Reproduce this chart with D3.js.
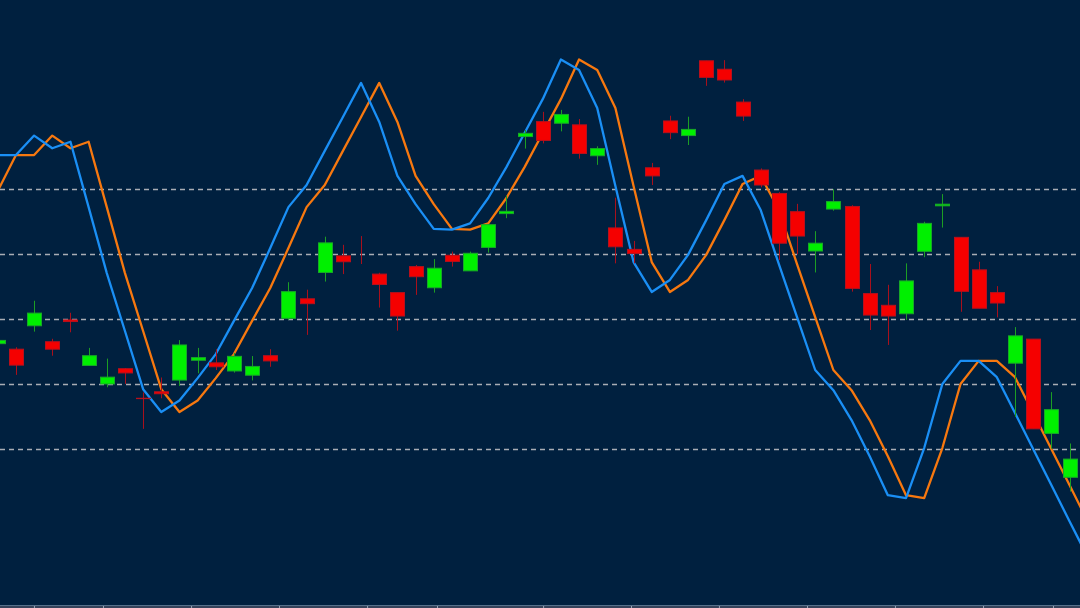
<!DOCTYPE html>
<html>
<head>
<meta charset="utf-8">
<script src="https://cdn.jsdelivr.net/npm/d3@7"></script>
<style>
  body { margin: 0; background: #00203f; }
  svg { display: block; }
</style>
</head>
<body>
<svg width="1080" height="608"></svg>
<script>
// candle data (one entry per bar)
var opens = [103.23, 103.06, 103.78, 103.29, 103.96, 102.56, 101.99, 102.46, 101.55, 101.75,
  102.11, 102.72, 102.64, 102.39, 102.26, 102.86, 104.01, 104.61, 105.42, 105.93,
  106.00, 105.37, 104.80, 105.60, 104.95, 105.95, 105.47, 106.19, 107.23, 109.60,
  110.06, 110.01, 109.96, 109.01, 106.79, 106.13, 108.64, 110.08, 109.63, 111.93,
  111.67, 110.66, 108.57, 107.85, 107.29, 106.08, 107.37, 107.45, 104.77, 104.41,
  104.15, 106.07, 107.47, 106.50, 105.50, 104.80, 102.63, 103.37, 100.47, 99.12];
var closes = [103.33, 102.57, 104.17, 103.06, 103.91, 102.86, 102.20, 102.33, 101.54, 101.69,
  103.19, 102.80, 102.52, 102.84, 102.53, 102.70, 104.83, 104.46, 106.33, 105.75,
  106.00, 105.05, 104.08, 105.29, 105.55, 105.76, 106.01, 106.89, 107.30, 109.70,
  109.48, 110.28, 109.08, 109.23, 106.21, 106.00, 108.39, 109.72, 109.82, 111.42,
  111.34, 110.23, 108.11, 106.32, 106.54, 106.32, 107.60, 104.93, 104.11, 104.08,
  105.16, 106.93, 107.52, 104.84, 104.32, 104.48, 103.47, 100.61, 101.20, 99.68];
var highs = [103.34, 103.12, 104.55, 103.38, 104.18, 103.10, 102.77, 102.48, 101.73, 102.19,
  103.34, 103.10, 103.06, 102.94, 102.85, 103.06, 105.12, 104.89, 106.52, 106.27,
  106.54, 105.41, 104.80, 105.65, 105.83, 106.06, 106.06, 106.89, 107.78, 109.80,
  110.36, 110.42, 110.14, 109.30, 107.72, 106.39, 108.79, 110.24, 110.21, 111.93,
  111.95, 110.75, 108.62, 107.89, 107.53, 106.69, 107.98, 107.49, 105.68, 105.04,
  105.70, 106.98, 107.83, 106.50, 105.75, 105.00, 103.74, 103.37, 101.74, 100.16];
var lows = [103.22, 102.27, 103.60, 102.86, 103.58, 102.55, 101.89, 101.99, 100.61, 101.55,
  101.93, 102.32, 102.42, 102.34, 102.10, 102.52, 103.96, 103.50, 105.14, 105.37,
  105.68, 104.34, 103.63, 104.73, 104.80, 105.60, 105.47, 106.03, 107.09, 109.23,
  109.39, 109.76, 108.92, 108.73, 105.70, 105.70, 108.11, 109.52, 109.34, 111.16,
  111.26, 110.08, 108.04, 105.80, 105.98, 105.42, 107.32, 104.83, 103.65, 103.19,
  103.96, 105.89, 106.80, 104.21, 104.32, 104.04, 100.98, 100.61, 100.00, 98.68];

// the two lines (blue = fast, orange = slow), one point more than the candles
var fastLine = [109.03, 109.03, 109.63, 109.24, 109.44, 107.43, 105.40, 103.62, 101.83, 101.13,
  101.48, 102.17, 102.91, 103.93, 104.94, 106.17, 107.43, 108.11, 109.16, 110.20,
  111.25, 110.05, 108.39, 107.52, 106.76, 106.74, 106.93, 107.71, 108.66, 109.71,
  110.75, 111.97, 111.65, 110.48, 108.08, 105.74, 104.82, 105.19, 105.96, 107.03,
  108.14, 108.39, 107.34, 105.68, 104.05, 102.42, 101.80, 100.88, 99.77, 98.57,
  98.48, 100.02, 101.99, 102.70, 102.70, 102.20, 101.10, 99.99, 98.88, 97.77,
  96.67];
var slowLine = [107.93, 109.03, 109.03, 109.63, 109.24, 109.44, 107.43, 105.40, 103.62, 101.83,
  101.13, 101.48, 102.17, 102.91, 103.93, 104.94, 106.17, 107.43, 108.11, 109.16,
  110.20, 111.25, 110.05, 108.39, 107.52, 106.76, 106.74, 106.93, 107.71, 108.66,
  109.71, 110.75, 111.97, 111.65, 110.48, 108.08, 105.74, 104.82, 105.19, 105.96,
  107.03, 108.14, 108.39, 107.34, 105.68, 104.05, 102.42, 101.80, 100.88, 99.77,
  98.57, 98.48, 100.02, 101.99, 102.70, 102.70, 102.20, 101.10, 99.99, 98.88,
  97.77];

var gridValues = [100, 102, 104, 106, 108]; // dashed price levels
var tickPositions = [1.99, 5.79, 10.64, 15.48, 20.33, 24.18, 30.02, 34.86, 39.70, 44.55, 49.39, 54.24, 58.09];

var svg = d3.select("svg"),
    width = +svg.attr("width"),
    height = +svg.attr("height");

var candles = opens.map(function (o, i) {
  return { i: i, open: o, close: closes[i], high: highs[i], low: lows[i] };
});

var x = d3.scaleLinear().domain([0, 59]).range([-2.2, 1069.5]),
    y = d3.scaleLinear().domain([95.1, 113.8]).range([height, 0]);

var bodyWidth = 14;

svg.append("rect")
  .attr("width", width)
  .attr("height", height)
  .attr("fill", "#00203f");

// dashed gridlines
svg.append("g")
  .selectAll("line")
  .data(gridValues)
  .enter().append("line")
  .attr("x1", 0)
  .attr("x2", width)
  .attr("y1", function (d) { return Math.round(y(d)) + 0.5; })
  .attr("y2", function (d) { return Math.round(y(d)) + 0.5; })
  .attr("stroke", "#a9adb5")
  .attr("stroke-width", 1.3)
  .attr("stroke-dasharray", "5,4");

// indicator lines
var line = d3.line()
  .x(function (d, i) { return x(i); })
  .y(function (d) { return y(d); });

svg.append("path")
  .datum(slowLine)
  .attr("fill", "none")
  .attr("stroke", "#f7780f")
  .attr("stroke-width", 2.3)
  .attr("stroke-linejoin", "round")
  .attr("d", line);

svg.append("path")
  .datum(fastLine)
  .attr("fill", "none")
  .attr("stroke", "#1a8ff5")
  .attr("stroke-width", 2.3)
  .attr("stroke-linejoin", "round")
  .attr("d", line);

// candles on top of the lines
var up = function (d) { return d.close > d.open; };

var c = svg.append("g")
  .selectAll("g")
  .data(candles)
  .enter().append("g");

c.append("line")
  .attr("x1", function (d) { return Math.round(x(d.i)) + 0.5; })
  .attr("x2", function (d) { return Math.round(x(d.i)) + 0.5; })
  .attr("y1", function (d) { return y(d.high); })
  .attr("y2", function (d) { return y(d.low); })
  .attr("stroke", function (d) { return up(d) ? "#1c9e24" : "#a8101c"; })
  .attr("stroke-width", 1);

c.append("rect")
  .attr("x", function (d) { return Math.round(x(d.i)) + 0.5 - bodyWidth / 2; })
  .attr("y", function (d) { return y(Math.max(d.open, d.close)); })
  .attr("width", bodyWidth)
  .attr("height", function (d) { return Math.abs(y(d.open) - y(d.close)); })
  .attr("fill", function (d) { return up(d) ? "#00f000" : "#f50000"; })
  .attr("stroke", function (d) { return up(d) ? "#18a828" : "#b8101c"; })
  .attr("stroke-width", 1);

// bottom axis strip
svg.append("rect")
  .attr("x", 0)
  .attr("y", 606)
  .attr("width", width)
  .attr("height", height - 606)
  .attr("fill", "#35425a");

var axis = svg.append("g")
  .attr("transform", "translate(0,606)")
  .call(d3.axisBottom(x).tickValues(tickPositions).tickFormat("").tickSize(6).tickSizeOuter(0));

axis.select(".domain").remove();
axis.selectAll(".tick line").attr("stroke", "#9aa6b8");

svg.append("line")
  .attr("x1", 0)
  .attr("x2", width)
  .attr("y1", 605.5)
  .attr("y2", 605.5)
  .attr("stroke", "#56708a");
</script>
</body>
</html>
